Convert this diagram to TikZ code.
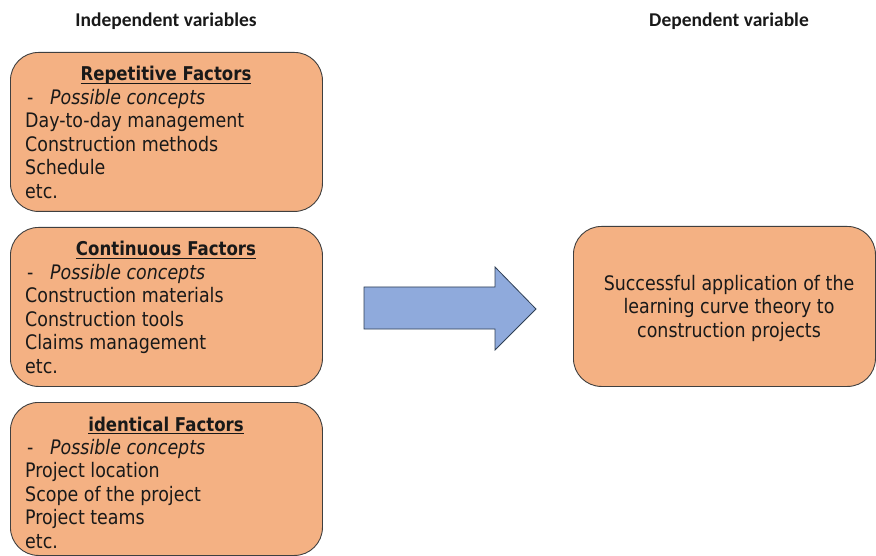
\documentclass[tikz,border=0pt]{standalone}
\usepackage{fontspec}
\newfontfamily\boxfont[FakeStretch=0.872]{DejaVu Sans}
\newfontfamily\headfont{Carlito}
\definecolor{boxfill}{HTML}{F4B183}
\definecolor{boxline}{HTML}{3F3F3F}
\definecolor{arrowfill}{HTML}{8FAADC}
\definecolor{arrowline}{HTML}{2F3F55}
\newcommand{\thickul}[1]{\setbox0\hbox{#1}\rlap{\rule[-3.2pt]{\wd0}{1.3pt}}\box0}
\begin{document}
\begin{tikzpicture}[x=1pt,y=-1pt,
  factor/.style={draw=boxline, line width=0.9pt, fill=boxfill, rounded corners=28pt,
    anchor=north west, inner sep=0pt, minimum width=312pt, minimum height=159pt},
  head/.style={font=\headfont\fontsize{19.5}{22}\selectfont\bfseries, anchor=base, inner sep=0pt, text=black!90},
  title/.style={font=\boxfont\fontsize{19}{23.5}\selectfont\bfseries, anchor=base, inner sep=0pt, text=black!90},
  item/.style={font=\boxfont\fontsize{20}{23.5}\selectfont, anchor=base west, inner sep=0pt, text=black!90},
  concept/.style={font=\boxfont\fontsize{20}{23.5}\selectfont\itshape, anchor=base west, inner sep=0pt, text=black!90},
  result/.style={font=\boxfont\fontsize{20}{23.5}\selectfont, align=center, inner sep=0pt, text=black!90},
  blockarrow/.style={draw=arrowline, line width=0.8pt, fill=arrowfill, line join=miter}
]
\useasboundingbox (0,0) rectangle (876,556);

\node[head] (indep) at (166,27) {Independent variables};
\node[head] (dep) at (729,27) {Dependent variable};

% Box 1
\node[factor] (rep) at (10,52) {};
\node[title] (rept) at (166,81) {\thickul{Repetitive Factors}};
\node[item] (repd) at (27,104.5) {-};
\node[concept] (repc) at (50,104.5) {Possible concepts};
\foreach \t [count=\i] in {Day-to-day management, Construction methods, Schedule, etc.}
  \node[item] (rep\i) at (25,104.5+23.4*\i) {\t};

% Box 2
\node[factor] (con) at (10,227) {};
\node[title] (cont) at (166,256) {\thickul{Continuous Factors}};
\node[item] (cond) at (27,279.5) {-};
\node[concept] (conc) at (50,279.5) {Possible concepts};
\foreach \t [count=\i] in {Construction materials, Construction tools, Claims management, etc.}
  \node[item] (con\i) at (25,279.5+23.4*\i) {\t};

% Box 3
\node[factor, minimum height=153pt] (ide) at (10,402) {};
\node[title] (idet) at (166,431) {\thickul{identical Factors}};
\node[item] (ided) at (27,454.5) {-};
\node[concept] (idec) at (50,454.5) {Possible concepts};
\foreach \t [count=\i] in {Project location, Scope of the project, Project teams, etc.}
  \node[item] (ide\i) at (25,454.5+23.4*\i) {\t};

% Arrow
\draw[blockarrow] (364,287) -- (495,287) -- (495,267) -- (536,309) -- (495,350) -- (495,329) -- (364,329) -- cycle;

% Result box
\node[factor, minimum width=302pt, minimum height=160pt] (res) at (573,226) {};
\node[result] (rest) at (729,308) {Successful application of the\\learning curve theory to\\construction projects};
\end{tikzpicture}
\end{document}
